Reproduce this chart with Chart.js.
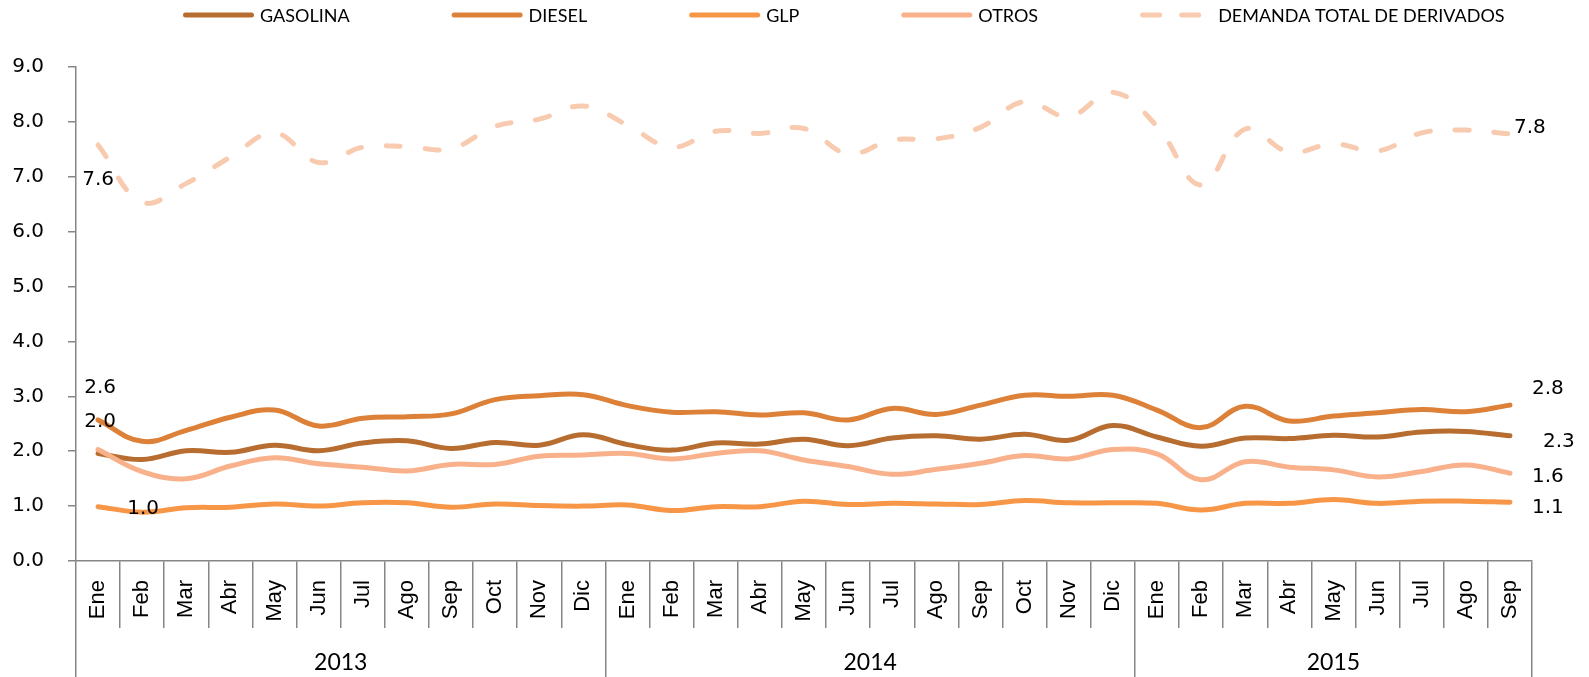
<!DOCTYPE html>
<html lang="es">
<head>
  <meta charset="UTF-8">
  <title>Demanda de derivados</title>
  <script src="https://cdn.jsdelivr.net/npm/chart.js"></script>
<style>
  body {
    margin: 0;
    background: #ffffff;
  }
  .chart-box {
    position: relative;
    width: 1589px;
    height: 677px;
  }
</style>
</head>
<body>
  <div class="chart-box">
    <canvas id="demandChart"></canvas>
  </div>
  <script>
    // Categories
    const months = ['Ene', 'Feb', 'Mar', 'Abr', 'May', 'Jun', 'Jul', 'Ago', 'Sep', 'Oct', 'Nov', 'Dic',
                    'Ene', 'Feb', 'Mar', 'Abr', 'May', 'Jun', 'Jul', 'Ago', 'Sep', 'Oct', 'Nov', 'Dic',
                    'Ene', 'Feb', 'Mar', 'Abr', 'May', 'Jun', 'Jul', 'Ago', 'Sep'];
    const years = ['2013', '2014', '2015'];
    const monthsPerYear = [12, 12, 9];
    const yTicks = [0, 1, 2, 3, 4, 5, 6, 7, 8, 9];

    // Series values
    const gasolina = [1.96, 1.85, 2.01, 1.98, 2.11, 2.01, 2.15, 2.19, 2.05, 2.16, 2.11, 2.30,
                      2.12, 2.02, 2.15, 2.13, 2.22, 2.10, 2.24, 2.28, 2.22, 2.31, 2.20, 2.47,
                      2.26, 2.09, 2.24, 2.23, 2.29, 2.26, 2.35, 2.36, 2.28];
    const diesel = [2.57, 2.18, 2.38, 2.62, 2.75, 2.46, 2.60, 2.63, 2.68, 2.94, 3.01, 3.03,
                    2.83, 2.71, 2.72, 2.66, 2.70, 2.57, 2.78, 2.67, 2.84, 3.02, 3.00, 3.02,
                    2.75, 2.43, 2.82, 2.55, 2.64, 2.70, 2.76, 2.72, 2.84];
    const glp = [0.99, 0.89, 0.97, 0.98, 1.04, 1.00, 1.06, 1.06, 0.98, 1.04, 1.01, 1.00,
                 1.02, 0.92, 0.99, 0.99, 1.09, 1.03, 1.05, 1.04, 1.03, 1.10, 1.06, 1.06,
                 1.05, 0.93, 1.05, 1.05, 1.12, 1.05, 1.09, 1.09, 1.07];
    const otros = [2.03, 1.63, 1.50, 1.73, 1.88, 1.77, 1.71, 1.64, 1.76, 1.76, 1.91, 1.93,
                   1.96, 1.86, 1.96, 2.01, 1.84, 1.72, 1.58, 1.67, 1.78, 1.92, 1.86, 2.03,
                   1.95, 1.48, 1.81, 1.71, 1.66, 1.53, 1.63, 1.75, 1.60];
    const demandaTotal = [7.58, 6.54, 6.88, 7.36, 7.80, 7.26, 7.54, 7.55, 7.51, 7.92, 8.05, 8.29,
                          7.94, 7.54, 7.83, 7.79, 7.88, 7.42, 7.67, 7.69, 7.90, 8.37, 8.10, 8.54,
                          7.92, 6.85, 7.87, 7.45, 7.60, 7.47, 7.80, 7.85, 7.78];

    // Year groups on a 0..n linear axis: boundaries and label centres
    const yearBounds = [0];
    monthsPerYear.forEach(n => yearBounds.push(yearBounds[yearBounds.length - 1] + n));
    const yearCenters = years.map((y, i) => (yearBounds[i] + yearBounds[i + 1]) / 2);

    const axisGray = '#868686';
    const tickFont = { family: "'DejaVu Sans', Verdana, sans-serif", size: 20 };
    const calibriLike = "Lato, 'Liberation Sans', Arial, sans-serif";

    // Data labels shown (Excel style), offsets in px from the point
    const pointLabels = [
      { ds: 4, i: 0, dx: 0, dy: 35 },
      { ds: 4, i: 32, dx: 20, dy: -6 },
      { ds: 1, i: 0, dx: 2, dy: -32 },
      { ds: 0, i: 0, dx: 2, dy: -32 },
      { ds: 2, i: 0, dx: 45, dy: 2 },
      { ds: 1, i: 32, dx: 38, dy: -16 },
      { ds: 0, i: 32, dx: 49, dy: 6 },
      { ds: 3, i: 32, dx: 38, dy: 4 },
      { ds: 2, i: 32, dx: 38, dy: 6 }
    ];

    const dataLabelPlugin = {
      id: 'dataLabels',
      afterDatasetsDraw(chart) {
        const ctx = chart.ctx;
        ctx.save();
        ctx.font = "20px 'DejaVu Sans', Verdana, sans-serif";
        ctx.fillStyle = '#000';
        ctx.textAlign = 'center';
        ctx.textBaseline = 'middle';
        pointLabels.forEach(l => {
          const pt = chart.getDatasetMeta(l.ds).data[l.i];
          const v = chart.data.datasets[l.ds].data[l.i];
          ctx.fillText(v.toFixed(1), pt.x + l.dx, pt.y + l.dy);
        });
        ctx.restore();
      }
    };

    // Legend drawn like the Excel one (long line markers, wide gaps)
    const legendPlugin = {
      id: 'excelLegend',
      afterDraw(chart) {
        const ctx = chart.ctx;
        const y = 15;
        let x = 183;
        ctx.save();
        ctx.font = '18px ' + calibriLike;
        ctx.textBaseline = 'middle';
        ctx.textAlign = 'left';
        chart.data.datasets.forEach(ds => {
          const dashed = !!ds.borderDash;
          ctx.strokeStyle = ds.borderColor;
          ctx.lineWidth = 5;
          ctx.lineCap = 'round';
          ctx.setLineDash(dashed ? [17, 22] : []);
          ctx.beginPath();
          ctx.moveTo(x + 2.5, y);
          ctx.lineTo(x + (dashed ? 58.5 : 68.5), y);
          ctx.stroke();
          ctx.setLineDash([]);
          const tx = x + (dashed ? 78 : 77);
          ctx.fillStyle = '#000';
          ctx.fillText(ds.label, tx, y + 1);
          x = tx + ctx.measureText(ds.label).width + 102;
        });
        ctx.restore();
      }
    };

    function lineSet(label, data, color, order, dash) {
      const ds = {
        label: label,
        data: data,
        borderColor: color,
        backgroundColor: color,
        borderWidth: 5,
        borderCapStyle: 'round',
        borderJoinStyle: 'round',
        pointRadius: 0,
        tension: 0.4,
        fill: false,
        order: order,
        xAxisID: 'x',
        yAxisID: 'y'
      };
      if (dash) ds.borderDash = dash;
      return ds;
    }

    const ctx = document.getElementById('demandChart').getContext('2d');
    new Chart(ctx, {
      type: 'line',
      data: {
        labels: months,
        datasets: [
          lineSet('GASOLINA', gasolina, '#B86D30', 5),
          lineSet('DIESEL', diesel, '#DD8138', 4),
          lineSet('GLP', glp, '#F79646', 3),
          lineSet('OTROS', otros, '#F8B18B', 2),
          lineSet('DEMANDA TOTAL DE DERIVADOS', demandaTotal, '#F8CBB0', 1, [14, 25])
        ]
      },
      options: {
        responsive: true,
        maintainAspectRatio: false,
        animation: false,
        layout: { padding: { top: 67, right: 57, left: 0, bottom: 0 } },
        plugins: {
          legend: { display: false },
          tooltip: { enabled: false }
        },
        scales: {
          y: {
            min: 0,
            max: 9,
            afterBuildTicks: s => { s.ticks = yTicks.map(v => ({ value: v })); },
            ticks: {
              padding: 24,
              color: '#000',
              font: tickFont,
              callback: v => Number(v).toFixed(1)
            },
            grid: { drawOnChartArea: false, tickLength: 8, color: axisGray, lineWidth: 1.5 },
            border: { color: axisGray, width: 1.5 },
            afterFit: s => { s.width = 76; }
          },
          x: {
            type: 'category',
            position: 'bottom',
            offset: true,
            weight: 0,
            ticks: {
              autoSkip: false,
              minRotation: 90,
              maxRotation: 90,
              padding: -48,
              color: '#000',
              font: { family: "'Liberation Sans', Arial, sans-serif", size: 22 }
            },
            grid: { offset: true, drawOnChartArea: false, tickLength: 67, color: axisGray, lineWidth: 1.5 },
            border: { color: axisGray, width: 1.5 },
            afterFit: s => { s.height = 67; }
          },
          years: {
            type: 'linear',
            position: 'bottom',
            weight: 1,
            min: 0,
            max: yearBounds[yearBounds.length - 1],
            afterBuildTicks: s => {
              s.ticks = yearBounds.concat(yearCenters).sort((a, b) => a - b).map(v => ({ value: v }));
            },
            ticks: {
              autoSkip: false,
              maxRotation: 0,
              padding: -28,
              color: '#000',
              font: { family: calibriLike, size: 23 },
              callback: v => {
                const k = yearCenters.indexOf(v);
                return k >= 0 ? years[k] : '';
              }
            },
            grid: {
              drawOnChartArea: false,
              tickLength: 49,
              lineWidth: 1.5,
              color: c => yearBounds.includes(c.tick.value) ? axisGray : 'rgba(0,0,0,0)'
            },
            border: { display: false },
            afterFit: s => { s.height = 49; }
          }
        }
      },
      plugins: [dataLabelPlugin, legendPlugin]
    });
  </script>
</body>
</html>
